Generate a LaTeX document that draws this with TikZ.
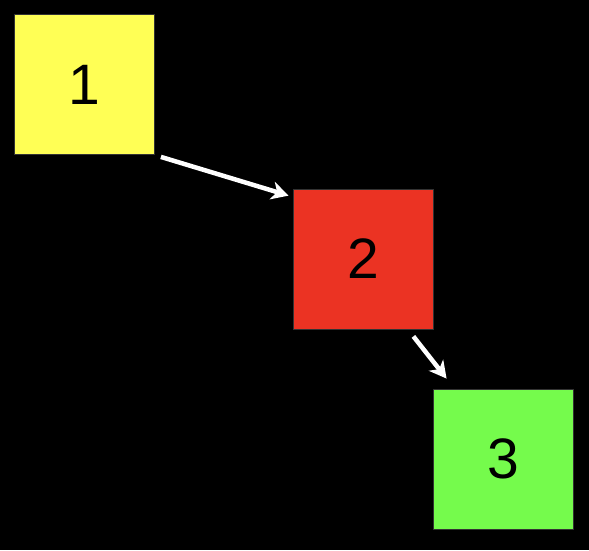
\documentclass[tikz,border=0pt]{standalone}
\usepackage{fontspec}
\setmainfont{Liberation Sans}
\usetikzlibrary{arrows.meta}
\definecolor{byellow}{HTML}{FFFF55}
\definecolor{bred}{HTML}{EB3323}
\definecolor{bgreen}{HTML}{75FB4C}
\tikzset{
  boxnode/.style={draw=black!80, line width=0.8pt, minimum width=140pt, minimum height=140pt, inner sep=0pt, font=\fontsize{57}{60}\selectfont, text=black},
  conn/.style={draw=white, line width=4.5pt, -{Stealth[length=17pt,width=18pt,inset=5pt]}}
}
\begin{document}
\begin{tikzpicture}[x=1pt,y=1pt]
\fill[black] (0,0) rectangle (589,550);
\useasboundingbox (0,0) rectangle (589,550);
\node[boxnode, fill=byellow] (b1) at (84.5,465.5) {1};
\node[boxnode, fill=bred] (b2) at (363,291) {2};
\node[boxnode, fill=bgreen] (b3) at (503,91) {3};
\draw[conn] ([shift={(6,-2)}]b1.south east) -- ([shift={(-4,-7)}]b2.north west);
\draw[conn] ([shift={(-20,-7)}]b2.south east) -- ([shift={(14,10)}]b3.north west);
\end{tikzpicture}
\end{document}
